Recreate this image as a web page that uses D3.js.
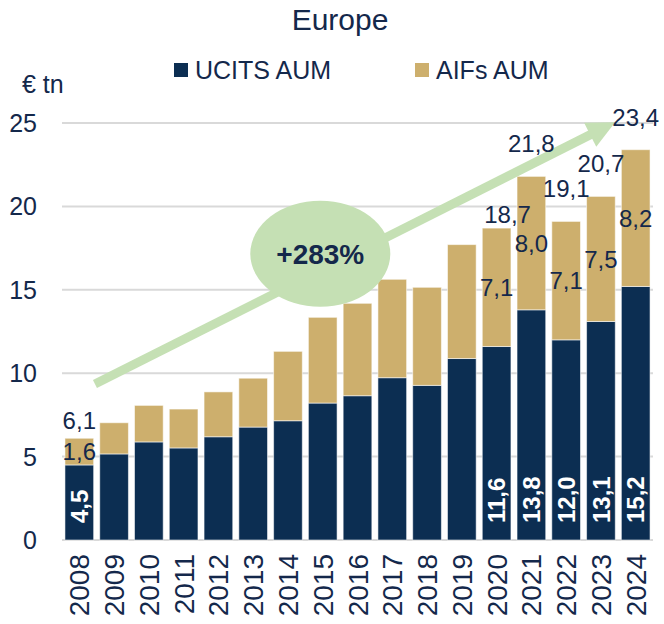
<!DOCTYPE html>
<html>
<head>
<meta charset="utf-8">
<script src="https://cdn.jsdelivr.net/npm/d3@7"></script>
<style>
  body { margin: 0; background: #fff; }
  text { font-family: "Liberation Sans", Arial, sans-serif; fill: #14284b; }
</style>
</head>
<body>
<div id="chart"></div>
<script>
// chart data
var years = ["2008", "2009", "2010", "2011", "2012", "2013", "2014", "2015", "2016",
             "2017", "2018", "2019", "2020", "2021", "2022", "2023", "2024"];
var ucits = [4.5, 5.16, 5.88, 5.52, 6.19, 6.77, 7.15, 8.21, 8.65, 9.73, 9.27, 10.88, 11.6, 13.8, 12.0, 13.1, 15.2];
var aifs = [1.6, 1.87, 2.19, 2.33, 2.69, 2.93, 4.16, 5.14, 5.54, 5.9, 5.88, 6.83, 7.1, 8.0, 7.1, 7.5, 8.2];
var ucitsLabels = ["4,5", "", "", "", "", "", "", "", "", "", "", "", "11,6", "13,8", "12,0", "13,1", "15,2"];
var aifsLabels = ["1,6", "", "", "", "", "", "", "", "", "", "", "", "7,1", "8,0", "7,1", "7,5", "8,2"];
var totalLabels = ["6,1", "", "", "", "", "", "", "", "", "", "", "", "18,7", "21,8", "19,1", "20,7", "23,4"];
var yTicks = [0, 5, 10, 15, 20, 25];
var seriesNames = ["UCITS AUM", "AIFs AUM"];
var growthText = "+283%";

var colors = { ucits: "#0c2e52", aifs: "#cdaf6d", grid: "#d9d9d9", green: "#c5e0b4", text: "#14284b" };

var W = 664, H = 624;
var margin = { top: 123, right: 11, bottom: 84, left: 62 },
    width = W - margin.left - margin.right,
    height = H - margin.top - margin.bottom;

var svg = d3.select("#chart")
    .append("svg")
    .attr("width", W)
    .attr("height", H)
    .append("g")
    .attr("transform", "translate(" + margin.left + "," + margin.top + ")");

var x = d3.scaleBand()
    .domain(years)
    .range([0, width])
    .paddingInner(0.175)
    .paddingOuter(0.085);

var y = d3.scaleLinear()
    .domain([0, 25])
    .range([height, 0]);

// position between bar centres, for the annotations
var xi = function (i) { return x(years[0]) + x.bandwidth() / 2 + i * x.step(); };

// gridlines
svg.append("g")
    .selectAll("line")
    .data(yTicks)
    .enter()
    .append("line")
    .attr("x1", 0)
    .attr("x2", width)
    .attr("y1", function (d) { return y(d); })
    .attr("y2", function (d) { return y(d); })
    .attr("stroke", colors.grid)
    .attr("stroke-width", 2);

// y tick labels
svg.append("g")
    .selectAll("text")
    .data(yTicks)
    .enter()
    .append("text")
    .attr("x", -25)
    .attr("y", function (d) { return y(d); })
    .attr("dy", "0.36em")
    .attr("text-anchor", "end")
    .style("font-size", "25px")
    .text(function (d) { return d; });

// stacked bars
var table = years.map(function (yr, i) { return { year: yr, ucits: ucits[i], aifs: aifs[i] }; });
var stacked = d3.stack().keys(["ucits", "aifs"])(table);

svg.append("g")
    .selectAll("g")
    .data(stacked)
    .enter()
    .append("g")
    .attr("fill", function (d) { return colors[d.key]; })
    .selectAll("rect")
    .data(function (d) { return d; })
    .enter()
    .append("rect")
    .attr("x", function (d) { return x(d.data.year); })
    .attr("y", function (d) { return y(d[1]); })
    .attr("width", x.bandwidth())
    .attr("height", function (d) { return y(d[0]) - y(d[1]); })
    .attr("stroke", "rgba(255,255,255,0.55)")
    .attr("stroke-width", 1);

// growth arrow
var a0 = [xi(0.45), y(9.35)], a1 = [xi(15.41), y(25.05)];
var dx = a1[0] - a0[0], dyy = a1[1] - a0[1], len = Math.sqrt(dx * dx + dyy * dyy);
var ux = dx / len, uy = dyy / len;
var headLen = 28, headHalf = 13.5;
var hb = [a1[0] - ux * headLen, a1[1] - uy * headLen];

svg.append("line")
    .attr("x1", a0[0]).attr("y1", a0[1])
    .attr("x2", hb[0] + ux * 2).attr("y2", hb[1] + uy * 2)
    .attr("stroke", colors.green)
    .attr("stroke-width", 9);

svg.append("path")
    .attr("d", "M" + a1[0] + "," + a1[1] +
        "L" + (hb[0] - uy * headHalf) + "," + (hb[1] + ux * headHalf) +
        "L" + (hb[0] + uy * headHalf) + "," + (hb[1] - ux * headHalf) + "Z")
    .attr("fill", colors.green);

// growth bubble
svg.append("ellipse")
    .attr("cx", xi(6.93))
    .attr("cy", y(17.16))
    .attr("rx", 70)
    .attr("ry", 53)
    .attr("fill", colors.green);

svg.append("text")
    .attr("x", xi(6.93))
    .attr("y", y(17.16))
    .attr("dy", "0.36em")
    .attr("text-anchor", "middle")
    .style("font-size", "28px")
    .style("font-weight", "bold")
    .text(growthText);

// UCITS labels, rotated white
svg.append("g")
    .selectAll("text")
    .data(table.filter(function (d, i) { return ucitsLabels[i] !== ""; }))
    .enter()
    .append("text")
    .attr("transform", function (d) {
        return "translate(" + (x(d.year) + x.bandwidth() / 2) + "," + (y(0) - 17) + ") rotate(-90)";
    })
    .attr("dy", "0.36em")
    .attr("text-anchor", "start")
    .style("font-size", "24px")
    .style("font-weight", "bold")
    .style("fill", "#fff")
    .text(function (d) { return ucitsLabels[years.indexOf(d.year)]; });

// AIFs labels, middle of the segment
svg.append("g")
    .selectAll("text")
    .data(table.filter(function (d, i) { return aifsLabels[i] !== ""; }))
    .enter()
    .append("text")
    .attr("x", function (d) { return x(d.year) + x.bandwidth() / 2; })
    .attr("y", function (d) { return y(d.ucits + d.aifs / 2); })
    .attr("dy", "0.36em")
    .attr("text-anchor", "middle")
    .style("font-size", "24px")
    .text(function (d) { return aifsLabels[years.indexOf(d.year)]; });

// total labels (a couple were nudged by hand in the original)
var nudge = { "2008": [0, -9], "2020": [11, -5] };
svg.append("g")
    .selectAll("text")
    .data(table.filter(function (d, i) { return totalLabels[i] !== ""; }))
    .enter()
    .append("text")
    .attr("x", function (d) { return x(d.year) + x.bandwidth() / 2 + (nudge[d.year] ? nudge[d.year][0] : 0); })
    .attr("y", function (d) { return y(d.ucits + d.aifs) + (nudge[d.year] ? nudge[d.year][1] : -24); })
    .attr("text-anchor", "middle")
    .style("font-size", "24px")
    .text(function (d) { return totalLabels[years.indexOf(d.year)]; });

// x axis labels, rotated
svg.append("g")
    .selectAll("text")
    .data(years)
    .enter()
    .append("text")
    .attr("transform", function (d) {
        return "translate(" + (x(d) + x.bandwidth() / 2) + "," + (height + 14) + ") rotate(-90)";
    })
    .attr("dy", "0.36em")
    .attr("text-anchor", "end")
    .style("font-size", "28px")
    .text(function (d) { return d; });

// unit label
svg.append("text")
    .attr("x", 22 - margin.left)
    .attr("y", 93 - margin.top)
    .style("font-size", "25px")
    .text("€ tn");

// title
svg.append("text")
    .attr("x", 340 - margin.left)
    .attr("y", 30 - margin.top)
    .attr("text-anchor", "middle")
    .style("font-size", "30px")
    .text("Europe");

// legend
var legendX = [174, 415];
var legend = svg.append("g")
    .selectAll("g")
    .data(seriesNames)
    .enter()
    .append("g")
    .attr("transform", function (d, i) { return "translate(" + (legendX[i] - margin.left) + "," + (63 - margin.top) + ")"; });

legend.append("rect")
    .attr("width", 14)
    .attr("height", 14)
    .attr("fill", function (d, i) { return i === 0 ? colors.ucits : colors.aifs; });

legend.append("text")
    .attr("x", 21)
    .attr("y", 16)
    .style("font-size", "25px")
    .text(function (d) { return d; });
</script>
</body>
</html>
